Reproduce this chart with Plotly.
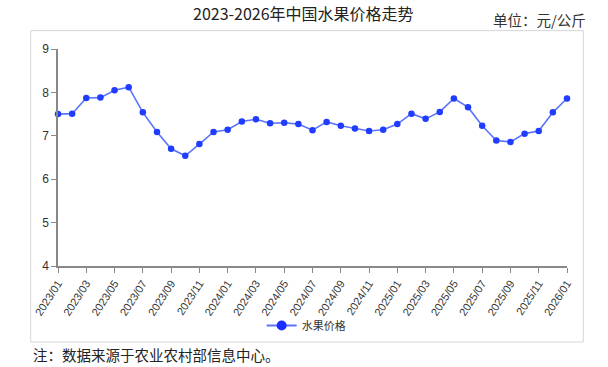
import plotly.graph_objects as go

months = [f"{y}/{m:02d}" for y in (2023, 2024, 2025) for m in range(1, 13)] + ["2026/01"]
prices = [7.50, 7.51, 7.87, 7.88, 8.05, 8.12, 7.54, 7.09, 6.70, 6.54, 6.81, 7.09,
          7.14, 7.33, 7.38, 7.29, 7.30, 7.27, 7.13, 7.32, 7.23, 7.17, 7.11, 7.14,
          7.27, 7.51, 7.39, 7.55, 7.86, 7.66, 7.23, 6.89, 6.86, 7.05, 7.11, 7.54,
          7.86]
tick_labels = months[::2]
y_ticks = [4, 5, 6, 7, 8, 9]

W, H = 608, 367
L, R, T, B = 58, 566.7, 49.3, 265.7  # plot area in pixels

def px(x):
    return (x - L) / (R - L)

def py(y):
    return (B - y) / (B - T)

fig = go.Figure()
fig.add_trace(go.Scatter(
    x=months, y=prices, mode="lines+markers", name="水果价格", showlegend=False,
    line=dict(color="#5b74ff", width=1.6),
    marker=dict(color="#1f3cff", size=6.5),
    cliponaxis=False,
))
# legend entry (bigger marker, as in the reference legend)
fig.add_trace(go.Scatter(
    x=[None], y=[None], mode="lines+markers", name="水果价格", showlegend=True,
    line=dict(color="#5b74ff", width=2),
    marker=dict(color="#1a2eff", size=10),
))

fig.update_layout(
    width=W, height=H,
    margin=dict(l=L, r=W - R, t=T, b=H - B, pad=0),
    paper_bgcolor="white", plot_bgcolor="white",
    font=dict(family="Noto Sans CJK SC, Noto Sans, sans-serif", color="#333333"),
    showlegend=True,
    legend=dict(orientation="h", x=px(306), y=py(325), xanchor="center", yanchor="middle",
                font=dict(size=11, color="#333333"), bgcolor="rgba(0,0,0,0)"),
    xaxis=dict(type="category", range=[0, len(months) - 1], automargin=False,
               tickmode="array", tickvals=tick_labels, ticktext=tick_labels,
               tickangle=-57, ticks="outside", ticklen=5, tickcolor="#888888",
               showline=True, linecolor="#888888", linewidth=1.5,
               showgrid=False, zeroline=False,
               tickfont=dict(size=11, color="#333333", family="Liberation Sans, Arial, sans-serif")),
    yaxis=dict(range=[4, 9], tickvals=y_ticks, ticks="outside", ticklen=5, tickcolor="#888888",
               showline=True, linecolor="#888888", linewidth=1.5, automargin=False,
               showgrid=False, zeroline=False,
               tickfont=dict(size=12, color="#333333", family="Liberation Sans, Arial, sans-serif")),
    shapes=[dict(type="rect", xref="paper", yref="paper",
                 x0=px(30.7), x1=px(583), y0=py(341.5), y1=py(31),
                 line=dict(color="#d6d6d6", width=1), fillcolor="rgba(0,0,0,0)", layer="below")],
    annotations=[
        dict(text="2023-2026年中国水果价格走势", xref="paper", yref="paper",
             x=px(303), y=py(13), xanchor="center", yanchor="middle", showarrow=False,
             font=dict(size=16, color="#222222")),
        dict(text="单位：元/公斤", xref="paper", yref="paper",
             x=px(588), y=py(20), xanchor="right", yanchor="middle", showarrow=False,
             font=dict(size=14.5, color="#333333")),
        dict(text="注：数据来源于农业农村部信息中心。", xref="paper", yref="paper",
             x=px(31), y=py(354), xanchor="left", yanchor="middle", showarrow=False,
             font=dict(size=14.5, color="#222222")),
    ],
)

fig.write_html("out.html", config={"displayModeBar": False},
               post_script="document.body.style.margin='0';document.body.style.overflow='hidden';")
